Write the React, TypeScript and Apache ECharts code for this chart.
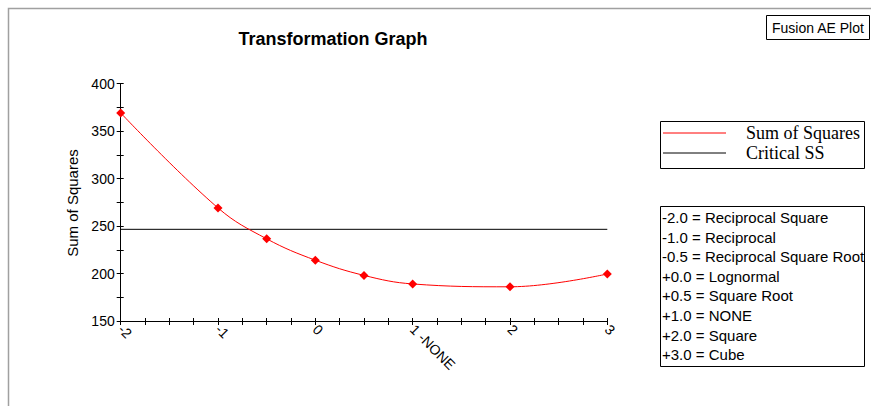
import React, { useEffect, useRef } from "react";
import * as echarts from "echarts";

const lambdas = [-2, -1, -0.5, 0, 0.5, 1, 2, 3];
const sumOfSquares = [369, 269, 236.5, 214, 198, 189, 186, 199.5];
const criticalSS = 246.5;
const xTickValues = [-2, -1, 0, 1, 2, 3];
const xTickLabels = ["-2", "-1", "0", "1 -NONE", "2", "3"];
const yTickValues = [150, 200, 250, 300, 350, 400];
const yTickLabels = ["150", "200", "250", "300", "350", "400"];
const seriesNames = ["Sum of Squares", "Critical SS"];
const transformNotes = [
  "-2.0 = Reciprocal Square",
  "-1.0 = Reciprocal",
  "-0.5 = Reciprocal Square Root",
  "+0.0 = Lognormal",
  "+0.5 = Square Root",
  "+1.0 = NONE",
  "+2.0 = Square",
  "+3.0 = Cube",
];
const titleText = "Transformation Graph";
const yAxisTitle = "Sum of Squares";
const plotTag = "Fusion AE Plot";

const SANS = "Arial, 'Liberation Sans', sans-serif";
const SERIF = "'Times New Roman', 'Liberation Serif', serif";

export default function App() {
  const ref = useRef<HTMLDivElement>(null);
  useEffect(() => {
    if (!ref.current) return;
    const chart = echarts.init(ref.current, null, { renderer: "svg" });
    const fmtX = (v: number) => {
      const i = xTickValues.findIndex((t) => Math.abs(t - v) < 1e-9);
      return i >= 0 ? xTickLabels[i] : "";
    };
    const fmtY = (v: number) => {
      const i = yTickValues.findIndex((t) => Math.abs(t - v) < 1e-9);
      return i >= 0 ? yTickLabels[i] : "";
    };
    const axisColor = "#000";
    const noteStartY = 217.5;
    const noteStep = 19.6;
    const graphic: any[] = [
      {
        type: "polyline",
        shape: { points: [[8.5, 406], [8.5, 8.5], [871, 8.5]] },
        style: { stroke: "#a0a0a0", lineWidth: 1.5, fill: null },
      },
      {
        type: "text",
        x: 333,
        y: 39,
        style: {
          text: titleText,
          font: `bold 18px ${SANS}`,
          fill: "#000",
          align: "center",
          verticalAlign: "middle",
        },
      },
      {
        type: "text",
        x: 72,
        y: 203,
        rotation: Math.PI / 2,
        style: {
          text: yAxisTitle,
          font: `15px ${SANS}`,
          fill: "#000",
          align: "center",
          verticalAlign: "middle",
        },
      },
      {
        type: "rect",
        shape: { x: 766.5, y: 15.5, width: 103, height: 24 },
        style: { fill: "#fff", stroke: "#000", lineWidth: 1 },
      },
      {
        type: "text",
        x: 772,
        y: 28,
        style: {
          text: plotTag,
          font: `14px ${SANS}`,
          fill: "#000",
          align: "left",
          verticalAlign: "middle",
        },
      },
      {
        type: "rect",
        shape: { x: 660.5, y: 121.5, width: 204, height: 47 },
        style: { fill: "#fff", stroke: "#000", lineWidth: 1 },
      },
      {
        type: "line",
        shape: { x1: 663, y1: 133, x2: 726, y2: 133 },
        style: { stroke: "#ff0000", lineWidth: 1 },
      },
      {
        type: "line",
        shape: { x1: 663, y1: 153, x2: 726, y2: 153 },
        style: { stroke: "#000", lineWidth: 1 },
      },
      {
        type: "text",
        x: 746,
        y: 133,
        style: {
          text: seriesNames[0],
          font: `18px ${SERIF}`,
          fill: "#000",
          align: "left",
          verticalAlign: "middle",
        },
      },
      {
        type: "text",
        x: 746,
        y: 153,
        style: {
          text: seriesNames[1],
          font: `18px ${SERIF}`,
          fill: "#000",
          align: "left",
          verticalAlign: "middle",
        },
      },
      {
        type: "rect",
        shape: { x: 660.5, y: 206.5, width: 204, height: 160 },
        style: { fill: "#fff", stroke: "#000", lineWidth: 1 },
      },
      ...transformNotes.map((t, i) => ({
        type: "text",
        x: 662,
        y: noteStartY + i * noteStep,
        style: {
          text: t,
          font: `15px ${SANS}`,
          fill: "#000",
          align: "left",
          verticalAlign: "middle",
        },
      })),
    ];

    const option: any = {
      animation: false,
      backgroundColor: "#fff",
      grid: { left: 120.7, right: 263.7, top: 83.5, bottom: 85, containLabel: false },
      xAxis: [
        {
          type: "value",
          min: -2,
          max: 3,
          interval: 0.25,
          position: "bottom",
          offset: 0,
          axisLine: { show: true, onZero: false, lineStyle: { color: axisColor, width: 1 } },
          axisTick: { show: true, inside: false, length: 4, lineStyle: { color: axisColor } },
          axisLabel: {
            show: true,
            formatter: fmtX,
            rotate: -45,
            margin: 6,
            color: "#000",
            fontFamily: SANS,
            fontSize: 14,
          },
          splitLine: { show: false },
        },
        {
          type: "value",
          min: -2,
          max: 3,
          interval: 0.25,
          position: "bottom",
          offset: 0,
          axisLine: { show: false, onZero: false },
          axisTick: { show: true, inside: true, length: 3, lineStyle: { color: axisColor } },
          axisLabel: { show: false },
          splitLine: { show: false },
        },
      ],
      yAxis: [
        {
          type: "value",
          min: 150,
          max: 400,
          interval: 25,
          position: "left",
          offset: 0,
          axisLine: { show: true, onZero: false, lineStyle: { color: axisColor, width: 1 } },
          axisTick: { show: true, inside: false, length: 4, lineStyle: { color: axisColor } },
          axisLabel: {
            show: true,
            formatter: fmtY,
            margin: 6,
            color: "#000",
            fontFamily: SANS,
            fontSize: 14,
          },
          splitLine: { show: false },
        },
        {
          type: "value",
          min: 150,
          max: 400,
          interval: 25,
          position: "left",
          offset: 0,
          axisLine: { show: false, onZero: false },
          axisTick: { show: true, inside: true, length: 3, lineStyle: { color: axisColor } },
          axisLabel: { show: false },
          splitLine: { show: false },
        },
      ],
      series: [
        {
          name: seriesNames[1],
          type: "line",
          xAxisIndex: 0,
          yAxisIndex: 0,
          data: [
            [lambdas[0], criticalSS],
            [lambdas[lambdas.length - 1], criticalSS],
          ],
          symbol: "none",
          lineStyle: { color: "#000", width: 1 },
          itemStyle: { color: "#000" },
          z: 2,
        },
        {
          name: seriesNames[0],
          type: "line",
          xAxisIndex: 0,
          yAxisIndex: 0,
          data: lambdas.map((x, i) => [x, sumOfSquares[i]]),
          smooth: 0.4,
          symbol: "diamond",
          symbolSize: 9,
          lineStyle: { color: "#ff0000", width: 1 },
          itemStyle: { color: "#ff0000" },
          z: 3,
        },
      ],
      graphic,
    };
    chart.setOption(option);
    return () => chart.dispose();
  }, []);
  return (
    <div
      ref={ref}
      style={{ position: "fixed", left: 0, top: 0, width: 871, height: 406, background: "#fff" }}
    />
  );
}
